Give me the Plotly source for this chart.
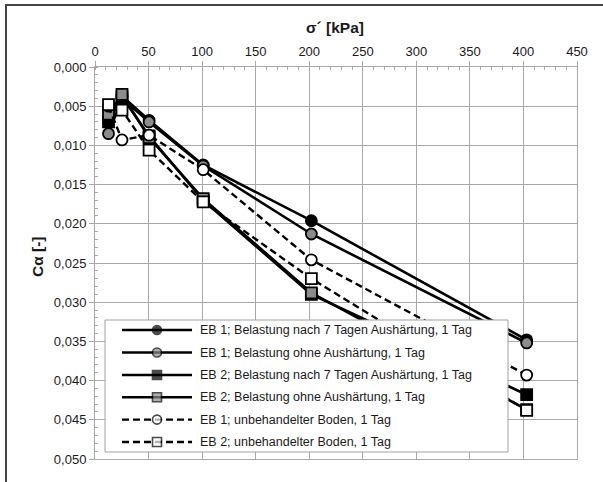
import plotly.graph_objects as go

# ---------------- data ----------------
sigma = [12.6, 25.2, 50.5, 101, 202, 403]          # sigma' [kPa]
eb1_7d = [0.0065, 0.0037, 0.0068, 0.0125, 0.0196, 0.0348]
eb1_0d = [0.0085, 0.0040, 0.0070, 0.0126, 0.0213, 0.0352]
eb2_7d = [0.0070, 0.0038, 0.0088, 0.0170, 0.0290, 0.0418]
eb2_0d = [0.0060, 0.0035, 0.0090, 0.0168, 0.0288, 0.0437]
eb1_un = [0.0050, 0.0093, 0.0087, 0.0131, 0.0246, 0.0393]
eb2_un = [0.0048, 0.0055, 0.0106, 0.0172, 0.0270, 0.0438]

names = [
    "EB 1; Belastung nach 7 Tagen Aushärtung, 1 Tag",
    "EB 1; Belastung ohne Aushärtung, 1 Tag",
    "EB 2; Belastung nach 7 Tagen Aushärtung, 1 Tag",
    "EB 2; Belastung ohne Aushärtung, 1 Tag",
    "EB 1; unbehandelter Boden, 1 Tag",
    "EB 2; unbehandelter Boden, 1 Tag",
]
series = [eb1_7d, eb1_0d, eb2_7d, eb2_0d, eb1_un, eb2_un]

# styles
symbols = ["circle", "circle", "square", "square", "circle", "square"]
fills = ["#000000", "#8c8c8c", "#000000", "#8c8c8c", "#ffffff", "#ffffff"]
dashes = ["solid", "solid", "solid", "solid", "7px,4px", "7px,4px"]

FONT = "Liberation Sans, Arial, sans-serif"
GRID = "#a8a8a8"

W, H = 603, 482
ML, MR, MT, MB = 95, 26, 67, 23
PW, PH = W - ML - MR, H - MT - MB


def px_x(p):
    return (p - ML) / PW


def px_y(p):
    return (H - MB - p) / PH


fig = go.Figure()

# data traces
for vals, nm, sym, fc, dsh in zip(series, names, symbols, fills, dashes):
    fig.add_trace(go.Scatter(
        x=sigma, y=vals, name=nm, mode="lines+markers",
        line=dict(color="#000000", width=2.6 if dsh == "solid" else 2.4, dash=dsh),
        marker=dict(symbol=sym, size=11, color=fc, line=dict(color="#000000", width=1.8)),
        xaxis="x", yaxis="y", cliponaxis=False, hoverinfo="skip",
    ))

# ---------------- manual legend on an overlay pixel axis ----------------
LX0, LX1, LY0, LY1 = 105, 508, 320, 452
fig.add_trace(go.Scatter(
    x=[LX0, LX1, LX1, LX0, LX0], y=[LY0, LY0, LY1, LY1, LY0],
    mode="lines", fill="toself", fillcolor="#ffffff",
    line=dict(color="#a0a0a0", width=1), xaxis="x2", yaxis="y2",
    hoverinfo="skip",
))
rows = [330, 352.5, 375, 397.3, 419.6, 442]
for ry, nm, sym, fc, dsh in zip(rows, names, symbols, fills, dashes):
    fig.add_trace(go.Scatter(
        x=[122, 157, 192], y=[ry, ry, ry], mode="lines+markers",
        line=dict(color="#000000", width=2.6 if dsh == "solid" else 2.4, dash=dsh),
        marker=dict(symbol=sym, size=[0, 9, 0], color=fc,
                    line=dict(color="#000000", width=1.6)),
        xaxis="x2", yaxis="y2", hoverinfo="skip",
    ))
    fig.add_annotation(x=198, y=ry, xref="x2", yref="y2", text=nm,
                       showarrow=False, xanchor="left", yanchor="middle",
                       font=dict(family=FONT, size=12.5, color="#1a1a1a"))

# axis titles
fig.add_annotation(x=px_x(335), y=px_y(28), xref="paper", yref="paper",
                   text="<b>σ´ [kPa]</b>", showarrow=False,
                   xanchor="center", yanchor="middle",
                   font=dict(family=FONT, size=15.5, color="#1a1a1a"))
fig.add_annotation(x=px_x(37), y=px_y(257), xref="paper", yref="paper",
                   text="<b>Cα [-]</b>", showarrow=False, textangle=-90,
                   xanchor="center", yanchor="middle",
                   font=dict(family=FONT, size=15.5, color="#1a1a1a"))

# outer frame (left and top)
fig.add_shape(type="line", xref="paper", yref="paper",
              x0=px_x(6), x1=px_x(6), y0=px_y(5), y1=px_y(482),
              line=dict(color="#444444", width=2))
fig.add_shape(type="line", xref="paper", yref="paper",
              x0=px_x(5), x1=px_x(603), y0=px_y(5), y1=px_y(5),
              line=dict(color="#444444", width=2))

fig.update_layout(
    width=W, height=H,
    margin=dict(l=ML, r=MR, t=MT, b=MB, pad=0),
    paper_bgcolor="#ffffff", plot_bgcolor="rgba(0,0,0,0)",
    separators=",.",
    showlegend=False, hovermode=False,
    font=dict(family=FONT, size=13, color="#1a1a1a"),
    xaxis=dict(
        side="top", range=[0, 450], dtick=50, tick0=0,
        showgrid=True, gridcolor=GRID, gridwidth=1,
        showline=True, linecolor=GRID, linewidth=1, mirror=True,
        ticks="outside", ticklen=5, tickcolor=GRID,
        minor=dict(dtick=10, ticks="inside", ticklen=3, tickcolor=GRID, showgrid=False),
        zeroline=False, tickfont=dict(family=FONT, size=13, color="#1a1a1a"),
        anchor="y", domain=[0, 1],
    ),
    yaxis=dict(
        range=[0.05, 0.0], dtick=0.005, tick0=0, tickformat=".3f",
        showgrid=True, gridcolor=GRID, gridwidth=1,
        showline=True, linecolor=GRID, linewidth=1, mirror=True,
        ticks="outside", ticklen=5, tickcolor=GRID,
        minor=dict(dtick=0.001, ticks="inside", ticklen=3, tickcolor=GRID, showgrid=False),
        zeroline=False, tickfont=dict(family=FONT, size=13, color="#1a1a1a"),
        anchor="x", domain=[0, 1],
    ),
    xaxis2=dict(range=[ML, W - MR], domain=[0, 1], anchor="y2", visible=False,
                fixedrange=True),
    yaxis2=dict(range=[H - MB, MT], domain=[0, 1], anchor="x2", visible=False,
                fixedrange=True),
)

fig.write_html("out.html")
